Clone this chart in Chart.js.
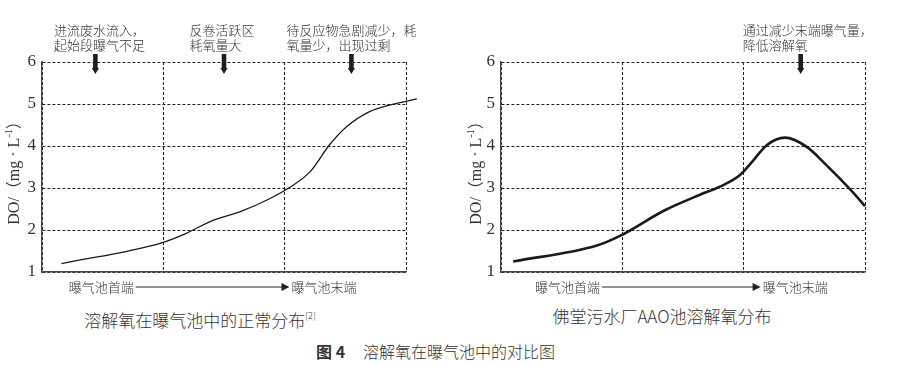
<!DOCTYPE html>
<html>
<head>
<meta charset="utf-8">
<script src="https://cdn.jsdelivr.net/npm/chart.js@4.4.1/dist/chart.umd.min.js"></script>
<style>
  body { margin: 0; background: #fff; width: 900px; height: 365px; position: relative; overflow: hidden;
         font-family: "Noto Sans CJK SC", sans-serif; color: #333; }
  canvas { position: absolute; top: 0; }
  #normal { left: 0; }
  #fotang { left: 450px; }
  .sub { position: absolute; top: 306px; font-size: 17px; line-height: 20px; font-weight: 300;
         white-space: nowrap; transform: translateX(-50%); }
  .sub sup { font-size: 9px; vertical-align: 8px; }
  #cap { position: absolute; left: 316px; top: 341px; font-size: 16px; line-height: 20px; white-space: nowrap; }
  #cap b { font-weight: 700; }
  #cap span { margin-left: 18px; font-weight: 300; }
</style>
</head>
<body>
<canvas id="normal" width="450" height="300"></canvas>
<canvas id="fotang" width="450" height="300"></canvas>
<div class="sub" style="left:200px">溶解氧在曝气池中的正常分布<sup>[2]</sup></div>
<div class="sub" style="left:662px">佛堂污水厂AAO池溶解氧分布</div>
<div id="cap"><b>图 4</b><span>溶解氧在曝气池中的对比图</span></div>
<script>
// position along the tank (0 = head, 3 = tail) and DO in mg/L
const normalPos = [0.16, 0.98, 1.18, 1.41, 1.63, 1.88, 2.04, 2.21, 2.37, 2.51, 2.70, 2.87, 3.09];
const normalDO  = [1.20, 1.69, 1.91, 2.23, 2.43, 2.75, 3.01, 3.39, 4.03, 4.46, 4.82, 4.98, 5.12];
const fotangPos = [0.10, 0.79, 0.98, 1.35, 1.64, 1.81, 1.97, 2.08, 2.19, 2.34, 2.52, 2.68, 2.88, 3.00];
const fotangDO  = [1.25, 1.63, 1.86, 2.47, 2.84, 3.04, 3.31, 3.66, 4.02, 4.20, 3.98, 3.55, 2.96, 2.57];

const doTicks = [1, 2, 3, 4, 5, 6];
const yTitle = ['DO/（mg · L', '-1', '）'];
const axisStart = '曝气池首端';
const axisEnd = '曝气池末端';

const normalNotes = [['进流废水流入，', '起始段曝气不足'], ['反卷活跃区', '耗氧量大'], ['待反应物急剧减少，耗', '氧量少，出现过剩']];
const fotangNotes = [['通过减少末端曝气量，', '降低溶解氧']];

const TEXT = '#333';

const decor = {
  id: 'decor',
  afterDraw(chart, args, opts) {
    const { ctx, chartArea: area, scales: { x } } = chart;
    ctx.save();
    ctx.textBaseline = 'middle';

    // notes with the thick down arrows
    ctx.font = '300 13px "Noto Sans CJK SC"';
    opts.notes.forEach((lines, i) => {
      const ax = x.getPixelForValue(opts.noteAt[i]);
      const w = Math.max(...lines.map((l) => ctx.measureText(l).width));
      ctx.fillStyle = TEXT;
      lines.forEach((l, j) => ctx.fillText(l, ax - w / 2 + opts.noteShift[i], 30 + j * 15));
      ctx.fillStyle = '#1e1e1e';
      ctx.fillRect(ax - 2.3, 54, 4.6, 15);
      ctx.beginPath();
      ctx.moveTo(ax - 3.6, 68);
      ctx.lineTo(ax + 3.6, 68);
      ctx.lineTo(ax, 74);
      ctx.closePath();
      ctx.fill();
    });

    // rotated y title with superscript
    ctx.save();
    ctx.translate(opts.titleX, (area.top + area.bottom) / 2 + 2);
    ctx.rotate(-Math.PI / 2);
    const fonts = ['16px "Liberation Serif", "Noto Sans CJK SC"', '10px "Liberation Serif"', '16px "Liberation Serif", "Noto Sans CJK SC"'];
    const widths = yTitle.map((t, i) => { ctx.font = fonts[i]; return ctx.measureText(t).width; });
    let tx = -widths.reduce((s, v) => s + v, 0) / 2;
    ctx.fillStyle = TEXT;
    yTitle.forEach((t, i) => {
      ctx.font = fonts[i];
      ctx.fillText(t, tx, i === 1 ? -6 : 0);
      tx += widths[i];
    });
    ctx.restore();

    // head -> tail arrow under the plot
    const ay = 287;
    ctx.font = '300 13px "Noto Sans CJK SC"';
    ctx.fillStyle = TEXT;
    const sx = x.getPixelForValue(opts.arrowFrom);
    ctx.fillText(axisStart, sx, ay);
    const lx = sx + ctx.measureText(axisStart).width + 2;
    const tip = x.getPixelForValue(opts.arrowTo);
    ctx.strokeStyle = '#222';
    ctx.lineWidth = 1;
    ctx.beginPath();
    ctx.moveTo(lx, ay);
    ctx.lineTo(tip - 6, ay);
    ctx.stroke();
    ctx.fillStyle = '#222';
    ctx.beginPath();
    ctx.moveTo(tip - 8, ay - 4);
    ctx.lineTo(tip, ay);
    ctx.lineTo(tip - 8, ay + 4);
    ctx.closePath();
    ctx.fill();
    ctx.fillStyle = TEXT;
    ctx.fillText(axisEnd, tip + 2, ay);
    ctx.restore();
  },
};

function makeChart(id, xs, ys, cfg) {
  return new Chart(document.getElementById(id), {
    type: 'line',
    data: {
      datasets: [{
        data: xs.map((v, i) => ({ x: v, y: ys[i] })),
        borderColor: '#1a1a1a',
        borderWidth: cfg.lineWidth,
        pointRadius: 0,
        cubicInterpolationMode: 'monotone',
        clip: false,
      }],
    },
    options: {
      responsive: false,
      devicePixelRatio: 1,
      animation: false,
      events: [],
      layout: { padding: { top: 62, right: cfg.padRight, bottom: 28, left: 0 } },
      plugins: {
        legend: { display: false },
        tooltip: { enabled: false },
        decor: cfg.decor,
      },
      scales: {
        x: {
          type: 'linear',
          min: 0,
          max: 3,
          ticks: { display: false, stepSize: 1 },
          grid: { color: '#222', lineWidth: 1, drawTicks: false },
          border: { display: true, color: '#444', width: 1.4, dash: [3, 2] },
          afterFit: (s) => { s.height = 0; },
        },
        y: {
          min: doTicks[0],
          max: doTicks[doTicks.length - 1],
          afterBuildTicks: (s) => { s.ticks = doTicks.map((v) => ({ value: v })); },
          ticks: { color: TEXT, padding: 6, font: { family: '"Liberation Serif"', size: 17 } },
          grid: { color: '#222', lineWidth: 1, drawTicks: false },
          border: { display: true, color: '#444', width: 1.4, dash: [3, 2] },
          afterFit: (s) => { s.width = cfg.axisWidth; },
        },
      },
    },
    plugins: [decor],
  });
}

makeChart('normal', normalPos, normalDO, {
  lineWidth: 1.3,
  padRight: 44,
  axisWidth: 42,
  decor: { notes: normalNotes, noteAt: [0.44, 1.5, 2.55], noteShift: [4, -2, 0], titleX: 15, arrowFrom: 0.22, arrowTo: 2.04 },
});

makeChart('fotang', fotangPos, fotangDO, {
  lineWidth: 2.6,
  padRight: 35,
  axisWidth: 51,
  decor: { notes: fotangNotes, noteAt: [2.47], noteShift: [7], titleX: 27, arrowFrom: 0.28, arrowTo: 2.14 },
});
</script>
</body>
</html>
